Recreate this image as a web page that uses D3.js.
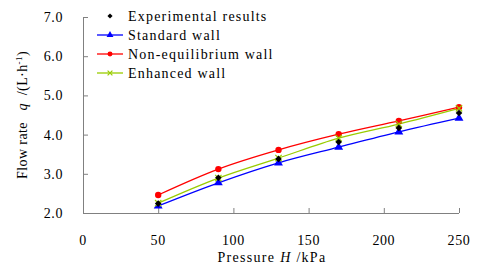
<!DOCTYPE html>
<html lang="en">
<head>
<meta charset="utf-8">
<title>Flow rate vs pressure</title>
<script src="https://cdn.jsdelivr.net/npm/d3@7/dist/d3.min.js"></script>
<style>
body { margin: 0; background: #fff; }
text { font-family: "Liberation Serif", "Times New Roman", serif; fill: #000; white-space: pre; }
.axis path, .axis line { stroke: #808080; }
</style>
</head>
<body>
<svg id="chart" width="480" height="275"></svg>
<script>
// pressure H (kPa)
var pressure = [50, 90, 130, 170, 210, 250];
var experimental = [2.24, 2.90, 3.38, 3.81, 4.17, 4.55];
var standardWall = [2.18, 2.77, 3.28, 3.68, 4.07, 4.42];
var nonEquilibrium = [2.46, 3.12, 3.61, 4.01, 4.35, 4.70];
var enhancedWall = [2.25, 2.89, 3.40, 3.91, 4.27, 4.67];
var xTicks = [0, 50, 100, 150, 200, 250];
var yTicks = [2, 3, 4, 5, 6, 7];

var svg = d3.select('#chart');
var x = d3.scaleLinear().domain([0, 250]).range([83, 459]);
var y = d3.scaleLinear().domain([2, 7]).range([213, 17]);

// axes, ticks point inward
svg.append('g').attr('class', 'axis')
    .attr('transform', 'translate(0,213)')
    .call(d3.axisTop(x).tickValues(xTicks).tickSize(5).tickFormat(''));
svg.append('g').attr('class', 'axis')
    .attr('transform', 'translate(83,0)')
    .call(d3.axisRight(y).tickValues(yTicks).tickSize(5).tickFormat(''));
svg.selectAll('.axis .domain').remove();
svg.append('line').attr('x1', 83).attr('x2', 459).attr('y1', 213.5).attr('y2', 213.5)
    .attr('stroke', '#808080');
svg.append('line').attr('x1', 83.5).attr('x2', 83.5).attr('y1', 17).attr('y2', 213)
    .attr('stroke', '#808080');

svg.selectAll('.xlab').data(xTicks).enter().append('text')
    .attr('x', function(d) { return x(d); })
    .attr('y', 245)
    .attr('text-anchor', 'middle')
    .attr('font-size', 14).attr('letter-spacing', 0.6)
    .text(function(d) { return d; });
svg.selectAll('.ylab').data(yTicks).enter().append('text')
    .attr('x', 63)
    .attr('y', function(d) { return y(d) + 5; })
    .attr('text-anchor', 'end')
    .attr('font-size', 14).attr('letter-spacing', 0.6)
    .text(function(d) { return d.toFixed(1); });

// axis titles
var xt = svg.append('text').attr('x', 272).attr('y', 262)
    .attr('text-anchor', 'middle').attr('font-size', 14).attr('letter-spacing', 1.3);
xt.append('tspan').text('Pressure ');
xt.append('tspan').attr('font-style', 'italic').text('H');
xt.append('tspan').text(' /kPa');

var yt = svg.append('text')
    .attr('transform', 'translate(27,115) rotate(-90)')
    .attr('text-anchor', 'middle').attr('font-size', 14).attr('letter-spacing', 0.4);
yt.append('tspan').text('Flow rate   ');
yt.append('tspan').attr('font-style', 'italic').text('q');
yt.append('tspan').text('  /(L·h');
yt.append('tspan').attr('font-size', 9).attr('dy', -5).text('-1');
yt.append('tspan').attr('dy', 5).text(')');

// series
var series = [
    {name: 'Standard wall', values: standardWall, color: '#0000ff', marker: 'triangle'},
    {name: 'Non-equilibrium wall', values: nonEquilibrium, color: '#ff0000', marker: 'circle'},
    {name: 'Enhanced wall', values: enhancedWall, color: '#99cc00', marker: 'cross'}
];

var line = d3.line()
    .x(function(d, i) { return x(pressure[i]); })
    .y(function(d) { return y(d); })
    .curve(d3.curveCatmullRom.alpha(0.5));

function drawMarker(g, type, color, cx, cy, k) {
    var t = 'translate(' + cx + ',' + cy + ')';
    if (type == 'triangle') {
        g.append('path').attr('d', d3.symbol(d3.symbolTriangle, 34 * k)())
            .attr('transform', t).attr('fill', color);
    } else if (type == 'circle') {
        g.append('circle').attr('cx', cx).attr('cy', cy).attr('r', 3.2 * Math.sqrt(k)).attr('fill', color);
    } else if (type == 'cross') {
        g.append('path').attr('d', d3.symbol(d3.symbolTimes, 28 * k)())
            .attr('transform', t)
            .attr('fill', 'none').attr('stroke', color).attr('stroke-width', 1.2);
    } else {
        g.append('path').attr('d', d3.symbol(d3.symbolSquare, 22 * k)())
            .attr('transform', t + ' rotate(45)').attr('fill', '#000');
    }
}

series.forEach(function(s) {
    svg.append('path').datum(s.values).attr('d', line)
        .attr('fill', 'none').attr('stroke', s.color).attr('stroke-width', 1.3);
});
series.forEach(function(s) {
    var g = svg.append('g');
    s.values.forEach(function(v, i) { drawMarker(g, s.marker, s.color, x(pressure[i]), y(v), 1); });
});
var eg = svg.append('g');
experimental.forEach(function(v, i) { drawMarker(eg, 'diamond', '#000', x(pressure[i]), y(v), 1); });

// legend
var legend = [{name: 'Experimental results', color: '#000', marker: 'diamond', line: false}]
    .concat(series.map(function(s) { return {name: s.name, color: s.color, marker: s.marker, line: true}; }));
legend.forEach(function(l, i) {
    var ly = 16 + i * 19;
    var g = svg.append('g');
    if (l.line) {
        g.append('line').attr('x1', 97).attr('x2', 123).attr('y1', ly).attr('y2', ly)
            .attr('stroke', l.color).attr('stroke-width', 1.3);
    }
    drawMarker(g, l.marker, l.color, 110, ly, 0.6);
    g.append('text').attr('x', 128).attr('y', ly + 5)
        .attr('font-size', 14).attr('letter-spacing', 1.2).text(l.name);
});
</script>
</body>
</html>
